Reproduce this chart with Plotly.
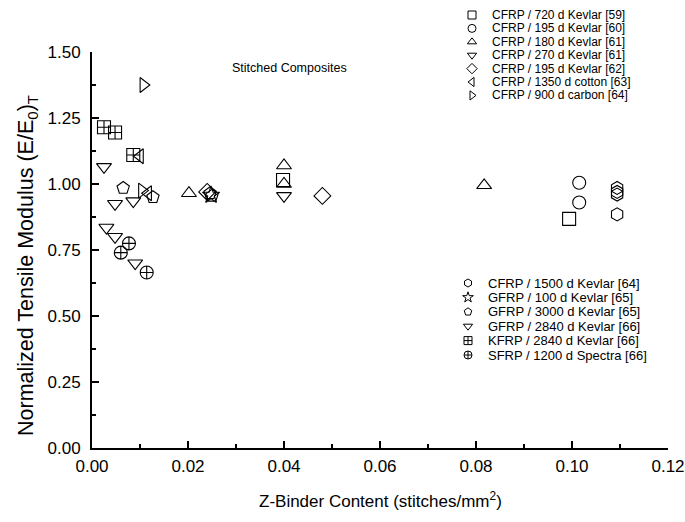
import plotly.graph_objects as go

# ---------------- data ----------------
names = [
    "CFRP / 720 d Kevlar [59]",
    "CFRP / 195 d Kevlar [60]",
    "CFRP / 180 d Kevlar [61]",
    "CFRP / 270 d Kevlar [61]",
    "CFRP / 195 d Kevlar [62]",
    "CFRP / 1350 d cotton [63]",
    "CFRP / 900 d carbon [64]",
    "CFRP / 1500 d Kevlar [64]",
    "GFRP / 100 d Kevlar [65]",
    "GFRP / 3000 d Kevlar [65]",
    "GFRP / 2840 d Kevlar [66]",
    "KFRP / 2840 d Kevlar [66]",
    "SFRP / 1200 d Spectra [66]",
]
symbols = [
    "square-open", "circle-open", "triangle-up-open", "triangle-down-open",
    "diamond-open", "triangle-left-open", "triangle-right-open", "hexagon-open",
    "star-open", "pentagon-open", "triangle-down-open", "square-cross-open",
    "circle-cross-open",
]
# which of the two key blocks each series is listed in
key_block = [1] * 7 + [2] * 6

x_720 = [0.0398, 0.0994]
y_720 = [1.015, 0.868]
x_195a = [0.1015, 0.1015]
y_195a = [1.005, 0.930]
x_180 = [0.0202, 0.0400, 0.0400, 0.0817]
y_180 = [0.965, 1.070, 1.000, 0.995]
x_270 = [0.0400]
y_270 = [0.955]
x_195b = [0.0240, 0.0480]
y_195b = [0.970, 0.955]
x_cotton = [0.0100, 0.0117]
y_cotton = [1.105, 0.965]
x_carbon = [0.0107, 0.0104]
y_carbon = [1.375, 0.975]
x_1500 = [0.1094, 0.1094, 0.1094, 0.1094]
y_1500 = [0.985, 0.970, 0.960, 0.885]
x_100 = [0.0248]
y_100 = [0.958]
x_3000 = [0.0065, 0.0127, 0.0250, 0.0246]
y_3000 = [0.985, 0.950, 0.955, 0.965]
x_2840g = [0.0025, 0.0048, 0.0086, 0.0030, 0.0048, 0.0090]
y_2840g = [1.065, 0.925, 0.935, 0.835, 0.800, 0.700]
x_2840k = [0.0025, 0.0048, 0.0086]
y_2840k = [1.215, 1.195, 1.110]
x_spectra = [0.0077, 0.0060, 0.0114]
y_spectra = [0.775, 0.740, 0.665]

xs = [x_720, x_195a, x_180, x_270, x_195b, x_cotton, x_carbon,
      x_1500, x_100, x_3000, x_2840g, x_2840k, x_spectra]
ys = [y_720, y_195a, y_180, y_270, y_195b, y_cotton, y_carbon,
      y_1500, y_100, y_3000, y_2840g, y_2840k, y_spectra]

x_ticks = [0.00, 0.02, 0.04, 0.06, 0.08, 0.10, 0.12]
y_ticks = [0.00, 0.25, 0.50, 0.75, 1.00, 1.25, 1.50]

x_title = "Z-Binder Content (stitches/mm<sup>2</sup>)"
y_title = "Normalized Tensile Modulus (E/E<sub>0</sub>)<sub>T</sub>"
note = "Stitched Composites"

# ---------------- layout constants (pixels) ----------------
W, H = 685, 522
PL, PR, PT, PB = 92, 668, 52, 448      # plot-area edges
FONT = "Liberation Sans, Arial, sans-serif"


def px_x(p):
    return p / W


def px_y(p):
    return 1 - p / H


fig = go.Figure()
for n, s, xv, yv in zip(names, symbols, xs, ys):
    fig.add_trace(go.Scatter(
        x=xv, y=yv, mode="markers", name=n, showlegend=False,
        marker=dict(symbol=s, size=13, color="black",
                    line=dict(color="black", width=1.1)),
    ))

# ---- keys (two blocks) drawn on a full-page pixel axis pair ----
blocks = {
    1: dict(x_sym=472, x_txt=490, y0=15, dy=13.4, fs=12),
    2: dict(x_sym=468, x_txt=486, y0=283, dy=14.4, fs=13),
}
counters = {1: 0, 2: 0}
key_x, key_y, key_s = [], [], []
for n, s, b in zip(names, symbols, key_block):
    cfg = blocks[b]
    yy = cfg["y0"] + counters[b] * cfg["dy"]
    counters[b] += 1
    key_x.append(cfg["x_sym"])
    key_y.append(yy)
    key_s.append(s)
    fig.add_annotation(
        x=cfg["x_txt"], y=yy, xref="x2", yref="y2", text=n,
        showarrow=False, xanchor="left", yanchor="middle",
        font=dict(family=FONT, size=cfg["fs"], color="black"),
    )
fig.add_trace(go.Scatter(
    x=key_x, y=key_y, xaxis="x2", yaxis="y2", mode="markers",
    showlegend=False, hoverinfo="skip",
    marker=dict(symbol=key_s, size=8, color="black",
                line=dict(color="black", width=1)),
))

axis_common = dict(
    showline=True, linecolor="black", linewidth=1.8,
    ticks="inside", ticklen=7, tickwidth=1.5, tickcolor="black",
    showgrid=False, zeroline=False, mirror=False, automargin=False,
    tickfont=dict(family=FONT, size=17, color="black"),
)

fig.update_layout(
    xaxis=dict(
        domain=[px_x(PL), px_x(PR)], anchor="y",
        range=[0, 0.12], tickvals=x_ticks,
        ticktext=[f"{v:.2f}" for v in x_ticks],
        minor=dict(ticks="inside", ticklen=4, tickwidth=1.5,
                   tickcolor="black", dtick=0.01),
        ticklabelstandoff=2,
        **axis_common,
    ),
    yaxis=dict(
        domain=[px_y(PB), px_y(PT)], anchor="x",
        range=[0, 1.5], tickvals=y_ticks,
        ticktext=[f"{v:.2f}" for v in y_ticks],
        minor=dict(ticks="inside", ticklen=4, tickwidth=1.5,
                   tickcolor="black", dtick=0.125),
        ticklabelstandoff=6,
        **axis_common,
    ),
    xaxis2=dict(domain=[0, 1], range=[0, W], anchor="y2", visible=False,
                fixedrange=True),
    yaxis2=dict(domain=[0, 1], range=[H, 0], anchor="x2", visible=False,
                fixedrange=True),
)

# axis titles
fig.add_annotation(
    x=px_x((PL + PR) / 2), y=px_y(500), xref="paper", yref="paper",
    text=x_title, showarrow=False, xanchor="center", yanchor="middle",
    font=dict(family=FONT, size=17, color="black"),
)
fig.add_annotation(
    x=px_x(27), y=px_y(266), xref="paper", yref="paper",
    text=y_title, showarrow=False, xanchor="center", yanchor="middle",
    textangle=-90,
    font=dict(family=FONT, size=21.5, color="black"),
)

fig.add_annotation(
    x=0.0288, y=1.44, xref="x", yref="y", text=note,
    showarrow=False, xanchor="left", yanchor="middle",
    font=dict(family=FONT, size=12.5, color="black"),
)

fig.update_layout(
    width=W, height=H,
    margin=dict(l=0, r=0, t=0, b=0),
    paper_bgcolor="white", plot_bgcolor="rgba(0,0,0,0)",
    showlegend=False,
)

fig.write_html("out.html")
